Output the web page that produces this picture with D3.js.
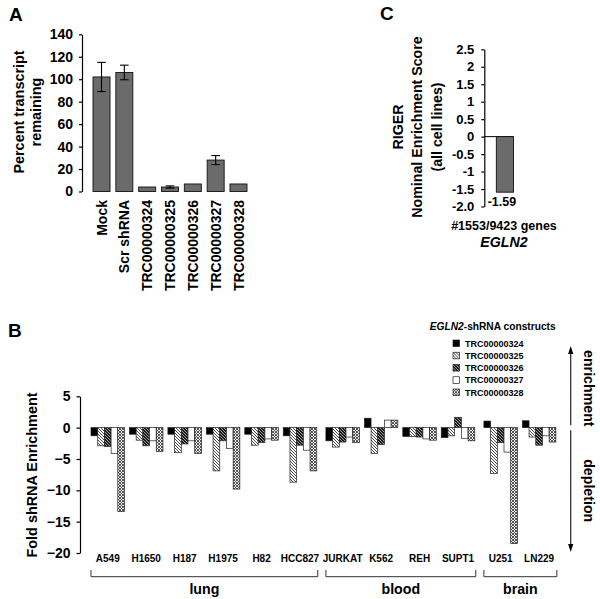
<!DOCTYPE html>
<html><head><meta charset="utf-8">
<script src="https://cdn.jsdelivr.net/npm/d3@7"></script>
<style>
html,body{margin:0;padding:0;background:#fff;}
text{font-family:"Liberation Sans",Arial,sans-serif;font-weight:bold;fill:#000;}
</style></head>
<body>
<svg id="chart" width="600" height="599"></svg>
<script>
// ---------- Panel A data ----------
const catsA = ["Mock","Scr shRNA","TRC00000324","TRC00000325","TRC00000326","TRC00000327","TRC00000328"];
const valsA = [102,106,4,4,6.7,28,6.7];
const errsA = [13,6.5,0,1,0,4,0];
const ticksA = [0,20,40,60,80,100,120,140];

// ---------- Panel C data ----------
const genesC = ["EGLN2"];
const valsC = [-1.59];
const ticksC = [2.5,2,1.5,1,0.5,0,-0.5,-1,-1.5,-2];
const tickLabelsC = ["2.5","2","1.5","1","0.5","0","-0.5","-1","-1.5","-2.0"];

// ---------- Panel B data ----------
const cellLines = ["A549","H1650","H187","H1975","H82","HCC827","JURKAT","K562","REH","SUPT1","U251","LN229"];
const tissueOf = ["lung","lung","lung","lung","lung","lung","blood","blood","blood","blood","brain","brain"];
const tissues = ["lung","blood","brain"];
const constructs = ["TRC00000324","TRC00000325","TRC00000326","TRC00000327","TRC00000328"];
const s324 = [-1.3,-1.05,-1.05,-1.05,-1.05,-1.3,-2.1,1.5,-1.4,-1.6,1.05,1.1];
const s325 = [-2.9,-2.0,-4.0,-6.9,-2.8,-8.7,-3.1,-4.1,-1.4,-1.3,-7.3,-1.5];
const s326 = [-3.0,-2.9,-2.6,-2.1,-2.35,-2.8,-2.3,-2.7,-1.5,1.65,-2.4,-2.8];
const s327 = [-4.1,-2.1,-2.1,-3.3,-1.8,-3.6,-1.5,1.2,-1.8,-1.7,-3.9,-1.3];
const s328 = [-13.4,-3.8,-4.1,-9.8,-2.0,-6.9,-2.4,1.2,-2.0,-2.1,-18.5,-2.3];
const ticksB = [5,0,-5,-10,-15,-20];
const seriesB = [s324,s325,s326,s327,s328];

const svg = d3.select("#chart");
svg.append("rect").attr("width",600).attr("height",599).attr("fill","#fff");

// patterns
const defs = svg.append("defs");
const p325 = defs.append("pattern").attr("id","p325").attr("patternUnits","userSpaceOnUse").attr("width",3).attr("height",3);
p325.append("rect").attr("width",3).attr("height",3).attr("fill","#fff");
p325.append("path").attr("d","M0,0L3,3M-1,2L1,4M2,-1L4,1").attr("stroke","#333").attr("stroke-width",0.9);
const p326 = defs.append("pattern").attr("id","p326").attr("patternUnits","userSpaceOnUse").attr("width",3).attr("height",3);
p326.append("rect").attr("width",3).attr("height",3).attr("fill","#1a1a1a");
p326.append("path").attr("d","M0,0L3,3M-1,2L1,4M2,-1L4,1").attr("stroke","#ddd").attr("stroke-width",0.7);
const p328 = defs.append("pattern").attr("id","p328").attr("patternUnits","userSpaceOnUse").attr("width",3).attr("height",3);
p328.append("rect").attr("width",3).attr("height",3).attr("fill","#eee");
p328.append("path").attr("d","M0,0L3,3M3,0L0,3").attr("stroke","#444").attr("stroke-width",0.9);
const fills = ["#000","url(#p325)","url(#p326)","#fff","url(#p328)"];

function panelLetter(t,x,y){ svg.append("text").attr("x",x).attr("y",y).attr("font-size",19).text(t); }
function styleAxis(g,fs){
  g.select(".domain").attr("stroke","#000").attr("stroke-width",1.2);
  g.selectAll(".tick line").attr("stroke","#000").attr("stroke-width",1.2);
  g.selectAll(".tick text").attr("font-size",fs).attr("font-family","Liberation Sans, Arial, sans-serif").attr("font-weight","bold").attr("fill","#000");
}

// ================= Panel A =================
panelLetter("A",9,21);
const xA = d3.scaleBand().domain(catsA).range([90.1,249.9]).paddingInner(0.255).paddingOuter(0.1275);
const yA = d3.scaleLinear().domain([0,140]).range([191.5,34.3]);
const gAy = svg.append("g").attr("transform","translate(82,0)")
  .call(d3.axisLeft(yA).tickValues(ticksA).tickSize(3).tickSizeOuter(0).tickPadding(6));
styleAxis(gAy,14);
svg.append("g").selectAll("rect").data(catsA).join("rect")
  .attr("x",d=>xA(d)).attr("width",xA.bandwidth())
  .attr("y",(d,i)=>yA(valsA[i])).attr("height",(d,i)=>yA(0)-yA(valsA[i]))
  .attr("fill","#6b6b6b").attr("stroke","#111").attr("stroke-width",0.9);
const eb = svg.append("g").attr("stroke","#000").attr("stroke-width",1.1);
catsA.forEach((c,i)=>{
  if(!errsA[i]) return;
  const cx = xA(c)+xA.bandwidth()/2;
  const y1 = yA(valsA[i]+errsA[i]), y2 = yA(valsA[i]-errsA[i]);
  eb.append("line").attr("x1",cx).attr("x2",cx).attr("y1",y1).attr("y2",y2);
  eb.append("line").attr("x1",cx-4.3).attr("x2",cx+4.3).attr("y1",y1).attr("y2",y1);
  eb.append("line").attr("x1",cx-4.3).attr("x2",cx+4.3).attr("y1",y2).attr("y2",y2);
});
svg.append("g").selectAll("text").data(catsA).join("text")
  .attr("transform",d=>`translate(${xA(d)+xA.bandwidth()/2},200) rotate(-90)`)
  .attr("text-anchor","end").attr("dy","0.36em").attr("font-size",14).text(d=>d);
const tA = svg.append("text").attr("transform","translate(0,112) rotate(-90)").attr("text-anchor","middle").attr("font-size",14.4);
tA.append("tspan").attr("x",0).attr("y",24).text("Percent transcript");
tA.append("tspan").attr("x",0).attr("y",41).text("remaining");

// ================= Panel C =================
panelLetter("C",380,20);
const yC = d3.scaleLinear().domain([-2,2.5]).range([206.5,49.3]);
const xC = d3.scaleBand().domain(genesC).range([484.3,513.5]).paddingInner(0).paddingOuter(0.35).align(1);
const gCy = svg.append("g").attr("transform","translate(484.3,0)")
  .call(d3.axisLeft(yC).tickValues(ticksC).tickFormat((d,i)=>tickLabelsC[i]).tickSize(3).tickSizeOuter(0).tickPadding(7));
styleAxis(gCy,13);
svg.append("line").attr("x1",xC.range()[0]).attr("x2",xC.range()[1]).attr("y1",yC(0)).attr("y2",yC(0)).attr("stroke","#000").attr("stroke-width",1);
svg.append("g").selectAll("rect").data(genesC).join("rect")
  .attr("x",d=>xC(d)).attr("width",xC.bandwidth())
  .attr("y",(d,i)=>yC(Math.max(0,valsC[i]))).attr("height",(d,i)=>Math.abs(yC(valsC[i])-yC(0)))
  .attr("fill","#6b6b6b").attr("stroke","#111").attr("stroke-width",0.9);
svg.append("g").selectAll("text").data(genesC).join("text")
  .attr("x",d=>xC(d)+xC.bandwidth()/2-3).attr("y",(d,i)=>yC(valsC[i])+14)
  .attr("text-anchor","middle").attr("font-size",12.5).text((d,i)=>valsC[i].toFixed(2));
const tC = svg.append("text").attr("transform","translate(0,127) rotate(-90)").attr("text-anchor","middle").attr("font-size",14.2);
tC.append("tspan").attr("x",0).attr("y",398).attr("dy","0.36em").text("RIGER");
tC.append("tspan").attr("x",0).attr("y",417).attr("dy","0.36em").text("Nominal Enrichment Score");
tC.append("tspan").attr("x",0).attr("y",437).attr("dy","0.36em").text("(all cell lines)");
svg.append("text").attr("x",504).attr("y",229.5).attr("text-anchor","middle").attr("font-size",12.5).text("#1553/9423 genes");
svg.append("text").attr("x",504).attr("y",247).attr("text-anchor","middle").attr("font-size",14.2).attr("font-style","italic").text(genesC[0]);

// ================= Panel B =================
panelLetter("B",8,337);
const gapFrac = 0.109;
const slot = (i)=> i + tissues.indexOf(tissueOf[i])*gapFrac;
const xB = d3.scaleLinear().domain([0, 11+2*gapFrac]).range([91, 91+11*38.45+8.4]);
const groupW = 33.5;
const xInner = d3.scaleBand().domain(constructs).range([0,groupW]);
const yB = d3.scaleLinear().domain([-20,5]).range([553,396.3]);
const gBy = svg.append("g").attr("transform","translate(80,0)")
  .call(d3.axisLeft(yB).tickValues(ticksB).tickSize(3.5).tickSizeOuter(0).tickPadding(6));
styleAxis(gBy,14);
const barsB = svg.append("g");
constructs.forEach((c,k)=>{
  barsB.append("g").selectAll("rect").data(cellLines).join("rect")
    .attr("x",(d,i)=>xB(slot(i))+xInner(c)).attr("width",xInner.bandwidth())
    .attr("y",(d,i)=>yB(Math.max(0,seriesB[k][i])))
    .attr("height",(d,i)=>Math.abs(yB(seriesB[k][i])-yB(0)))
    .attr("fill",fills[k]).attr("stroke","#222").attr("stroke-width",0.7);
});
svg.append("g").selectAll("text").data(cellLines).join("text")
  .attr("x",(d,i)=>xB(slot(i))+groupW/2).attr("y",562).attr("text-anchor","middle").attr("font-size",10).text(d=>d);
// tissue brackets
const br = svg.append("g");
tissues.forEach(t=>{
  const idx = cellLines.map((d,i)=>i).filter(i=>tissueOf[i]===t);
  const x0 = xB(slot(idx[0])), x1 = xB(slot(idx[idx.length-1]))+groupW+1;
  br.append("path").attr("d",`M${x0},570V576.7H${x1}V570`).attr("fill","none").attr("stroke","#333").attr("stroke-width",1);
  br.append("text").attr("x",(x0+x1)/2).attr("y",593.5).attr("text-anchor","middle").attr("font-size",14.2).text(t);
});
svg.append("text").attr("transform","translate(32,475) rotate(-90)").attr("dy","0.36em").attr("text-anchor","middle").attr("font-size",14.4).text("Fold shRNA Enrichment");

// legend
const lgTitle = svg.append("text").attr("x",492.7).attr("y",330).attr("text-anchor","middle").attr("font-size",10.2);
lgTitle.append("tspan").attr("font-style","italic").text("EGLN2");
lgTitle.append("tspan").text("-shRNA constructs");
const lg = svg.append("g").selectAll("g").data(constructs).join("g")
  .attr("transform",(d,i)=>`translate(453,${343.3+i*12.25})`);
lg.append("rect").attr("x",0).attr("y",-3.3).attr("width",6.6).attr("height",6.6)
  .attr("fill",(d,i)=>fills[i]).attr("stroke","#222").attr("stroke-width",0.7);
lg.append("text").attr("x",12).attr("dy","0.36em").attr("font-size",9).text(d=>d);

// enrichment / depletion arrow
const ax = 570.7, zy = yB(0);
svg.append("line").attr("x1",ax).attr("x2",ax).attr("y1",352).attr("y2",zy-2.5).attr("stroke","#333").attr("stroke-width",1.3);
svg.append("line").attr("x1",ax).attr("x2",ax).attr("y1",zy+2.5).attr("y2",546).attr("stroke","#333").attr("stroke-width",1.3);
svg.append("path").attr("d",`M${ax},346L${ax-2.6},354L${ax+2.6},354Z`).attr("fill","#000");
svg.append("path").attr("d",`M${ax},552L${ax-2.6},544L${ax+2.6},544Z`).attr("fill","#000");
svg.append("text").attr("transform","translate(589,388.3) rotate(90)").attr("dy","0.36em").attr("text-anchor","middle").attr("font-size",14.2).text("enrichment");
svg.append("text").attr("transform","translate(589,490.7) rotate(90)").attr("dy","0.36em").attr("text-anchor","middle").attr("font-size",14.2).text("depletion");
</script>
</body></html>
